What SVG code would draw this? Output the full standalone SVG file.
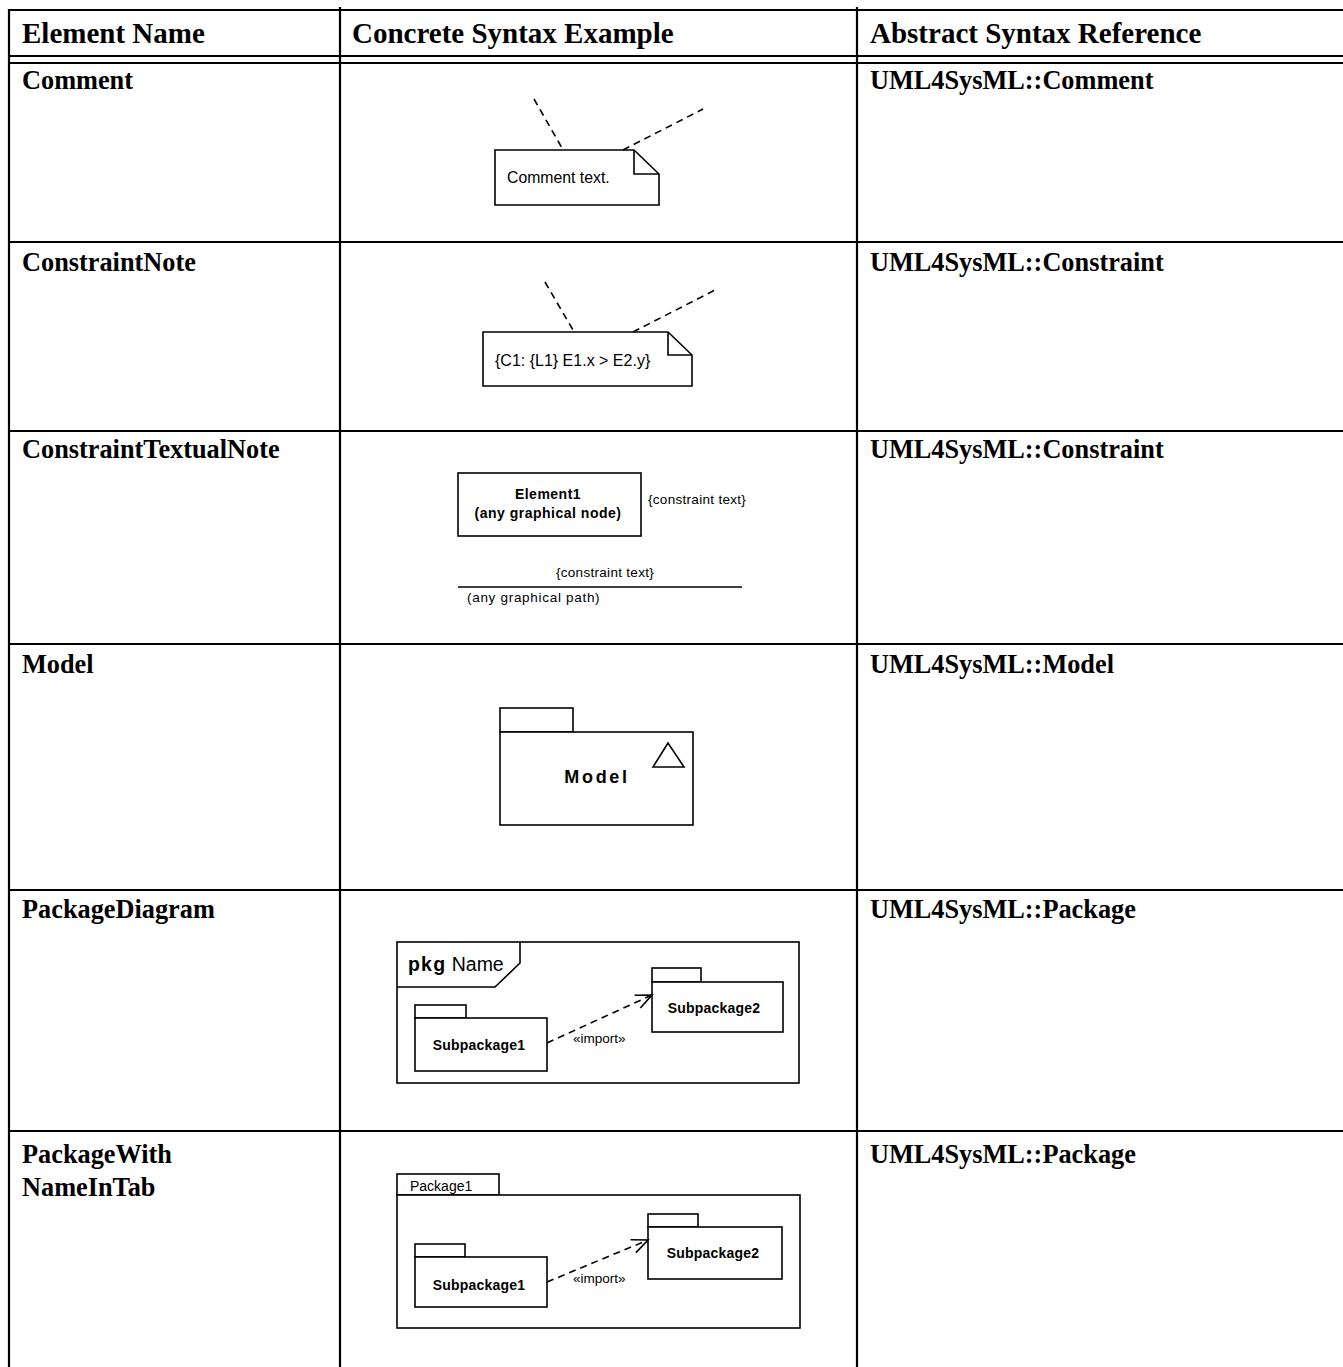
<svg xmlns="http://www.w3.org/2000/svg" width="1343" height="1367" viewBox="0 0 1343 1367">
<defs>
<style>
.tl{stroke:#000;stroke-width:2.2;fill:none}
.hd{font-family:"Liberation Serif",serif;font-weight:bold;font-size:29px;fill:#000}
.cl{font-family:"Liberation Serif",serif;font-weight:bold;font-size:26.3px;fill:#000}
.sh{stroke:#000;stroke-width:1.6;fill:#fff}
.ln{stroke:#000;stroke-width:1.6;fill:none}
.ds{stroke:#000;stroke-width:1.6;fill:none;stroke-dasharray:7 5}
.t{font-family:"Liberation Sans",Arial,sans-serif;fill:#000}
.b{font-family:"Liberation Sans",Arial,sans-serif;font-weight:bold;fill:#000}
.sp{font-size:14px;letter-spacing:0.2px}
.im{font-size:13.5px}
</style>
<marker id="open" viewBox="0 0 20 20" refX="18" refY="10" markerWidth="20" markerHeight="20" markerUnits="userSpaceOnUse" orient="auto">
<path d="M2,3 L18,10 L2,17" fill="none" stroke="#000" stroke-width="1.6"/>
</marker>
</defs>
<rect width="1343" height="1367" fill="#fff"/>
<g id="table">
<line class="tl" x1="9" y1="10" x2="1343" y2="10"/>
<line class="tl" x1="9" y1="56" x2="1343" y2="56"/>
<line class="tl" x1="9" y1="63" x2="1343" y2="63"/>
<line class="tl" x1="9" y1="242" x2="1343" y2="242"/>
<line class="tl" x1="9" y1="431" x2="1343" y2="431"/>
<line class="tl" x1="9" y1="644" x2="1343" y2="644"/>
<line class="tl" x1="9" y1="890" x2="1343" y2="890"/>
<line class="tl" x1="9" y1="1131" x2="1343" y2="1131"/>
<line class="tl" x1="9" y1="9" x2="9" y2="1367"/>
<line class="tl" x1="340" y1="7" x2="340" y2="1367"/>
<line class="tl" x1="857" y1="7" x2="857" y2="1367"/>
<text class="hd" x="22" y="43">Element Name</text>
<text class="hd" x="352" y="43">Concrete Syntax Example</text>
<text class="hd" x="870" y="43">Abstract Syntax Reference</text>
<text class="cl" x="22" y="89">Comment</text>
<text class="cl" x="870" y="89">UML4SysML::Comment</text>
<text class="cl" x="22" y="271">ConstraintNote</text>
<text class="cl" x="870" y="271">UML4SysML::Constraint</text>
<text class="cl" x="22" y="458">ConstraintTextualNote</text>
<text class="cl" x="870" y="458">UML4SysML::Constraint</text>
<text class="cl" x="22" y="673">Model</text>
<text class="cl" x="870" y="673">UML4SysML::Model</text>
<text class="cl" x="22" y="918">PackageDiagram</text>
<text class="cl" x="870" y="918">UML4SysML::Package</text>
<text class="cl" x="22" y="1163">PackageWith</text>
<text class="cl" x="22" y="1196">NameInTab</text>
<text class="cl" x="870" y="1163">UML4SysML::Package</text>
</g>
<g id="comment">
<path class="sh" d="M495,150 H634 L659,174 V205 H495 Z"/>
<path class="ln" d="M634,150 V174 H659"/>
<text class="t" x="507" y="183" font-size="15.8">Comment text.</text>
</g>
<g id="constraint-note">
<path class="sh" d="M483,332 H668 L692,355 V386 H483 Z"/>
<path class="ln" d="M668,332 V355 H692"/>
<text class="t" x="495" y="366" font-size="16">{C1: {L1} E1.x &gt; E2.y}</text>
</g>
<g id="element1">
<rect class="sh" x="458" y="473" width="183" height="63"/>
<text class="b" x="548" y="499" font-size="14" letter-spacing="0.5" text-anchor="middle">Element1</text>
<text class="b" x="548" y="518" font-size="14" letter-spacing="0.5" text-anchor="middle">(any graphical node)</text>
<text class="t" x="648" y="504" font-size="13.5" letter-spacing="0.3">{constraint  text}</text>
</g>
<g id="graphical-path">
<text class="t" x="605" y="577" font-size="13.5" letter-spacing="0.3" text-anchor="middle">{constraint  text}</text>
<text class="t" x="467" y="602" font-size="13.5" letter-spacing="0.7">(any graphical path)</text>
</g>
<g id="model">
<rect class="sh" x="500" y="708" width="73" height="24"/>
<rect class="sh" x="500" y="732" width="193" height="93"/>
<path class="ln" d="M668,743 L653,767 H684 Z"/>
<text class="b" x="597" y="783" font-size="18" letter-spacing="2.7" text-anchor="middle">Model</text>
</g>
<g id="pkg-frame">
<rect class="sh" x="397" y="942" width="402" height="141"/>
<path class="ln" d="M397,987 H495 L520,963 V942"/>
<text class="t" x="408" y="971" font-size="19.5"><tspan font-weight="bold" letter-spacing="1.2">pkg</tspan> Name</text>
</g>
<g id="pkg-sub1">
<rect class="sh" x="415" y="1005" width="51" height="13"/>
<rect class="sh" x="415" y="1018" width="132" height="53"/>
<text class="b sp" x="479" y="1050" text-anchor="middle">Subpackage1</text>
</g>
<g id="pkg-sub2">
<rect class="sh" x="652" y="968" width="49" height="14"/>
<rect class="sh" x="652" y="982" width="131" height="50"/>
<text class="b sp" x="714" y="1013" text-anchor="middle">Subpackage2</text>
</g>
<g id="tab-frame">
<rect class="sh" x="397" y="1174" width="102" height="21"/>
<rect class="sh" x="397" y="1195" width="403" height="133"/>
<text class="t" x="410" y="1191" font-size="14">Package1</text>
</g>
<g id="tab-sub1">
<rect class="sh" x="415" y="1244" width="50" height="13"/>
<rect class="sh" x="415" y="1257" width="132" height="50"/>
<text class="b sp" x="479" y="1290" text-anchor="middle">Subpackage1</text>
</g>
<g id="tab-sub2">
<rect class="sh" x="648" y="1214" width="50" height="13"/>
<rect class="sh" x="648" y="1227" width="134" height="52"/>
<text class="b sp" x="713" y="1258" text-anchor="middle">Subpackage2</text>
</g>
<g id="connectors">
<line class="ds" x1="534" y1="99" x2="562" y2="148"/>
<line class="ds" x1="623" y1="150" x2="703" y2="109"/>
<line class="ds" x1="545" y1="282" x2="573" y2="330"/>
<line class="ds" x1="633" y1="332" x2="715" y2="290"/>
<line class="ln" x1="458" y1="587" x2="742" y2="587"/>
<line class="ds" x1="547" y1="1043" x2="652" y2="995" marker-end="url(#open)"/>
<text class="t im" x="573" y="1043">«import»</text>
<line class="ds" x1="547" y1="1282" x2="648" y2="1240" marker-end="url(#open)"/>
<text class="t im" x="573" y="1283">«import»</text>
</g>
</svg>
